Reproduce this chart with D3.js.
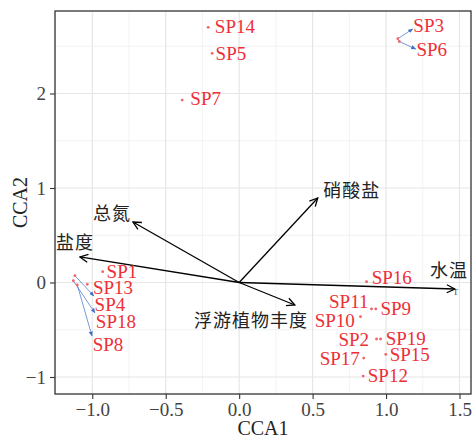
<!DOCTYPE html>
<html>
<head>
<meta charset="utf-8">
<script src="https://cdn.jsdelivr.net/npm/d3@7"></script>
<style>
  body { margin: 0; background: #fff; }
  svg { display: block; }
</style>
</head>
<body>
<svg id="chart" width="473" height="438"></svg>
<script>
// species scores (CCA1, CCA2)
var species = ["SP14", "SP5", "SP7", "SP3", "SP6", "SP1", "SP13", "SP4", "SP18", "SP8",
               "SP16", "SP11", "SP9", "SP10", "SP2", "SP19", "SP15", "SP17", "SP12"];
var spX = [-0.211, -0.184, -0.388, 1.080, 1.090, -0.929, -1.034, -1.118, -1.129, -1.102,
           0.867, 0.901, 0.930, 0.826, 0.935, 0.962, 0.998, 0.848, 0.844];
var spY = [2.700, 2.425, 1.930, 2.580, 2.550, 0.114, -0.019, 0.072, 0.019, -0.026,
           0.008, -0.280, -0.280, -0.362, -0.598, -0.598, -0.760, -0.800, -0.990];
// where the (repelled) labels sit, in data units
var labX = [-0.029, -0.056, -0.228, 1.290, 1.311, -0.798, -0.859, -0.880, -0.839, -0.893,
            1.039, 0.746, 1.066, 0.651, 0.780, 1.134, 1.161, 0.685, 1.012];
var labY = [2.714, 2.429, 1.952, 2.725, 2.471, 0.122, -0.048, -0.228, -0.407, -0.651,
            0.058, -0.196, -0.270, -0.397, -0.598, -0.587, -0.757, -0.799, -0.979];
// labels pushed away from their point get a segment
var repelled = ["SP3", "SP6", "SP4", "SP18", "SP8"];

// environmental vectors
var envNames = ["水温", "盐度", "总氮", "硝酸盐", "浮游植物丰度"];
var envX = [1.468, -1.084, -0.723, 0.535, 0.379];
var envY = [-0.069, 0.270, 0.640, 0.894, -0.238];
var envLabX = [1.428, -1.118, -0.866, 0.766, 0.080];
var envLabY = [0.122, 0.418, 0.725, 0.968, -0.407];

var xTicks = [-1.0, -0.5, 0.0, 0.5, 1.0, 1.5];
var yTicks = [-1, 0, 1, 2];
var xMinor = [-1.25, -0.75, -0.25, 0.25, 0.75, 1.25];
var yMinor = [-0.5, 0.5, 1.5, 2.5];

var margin = { top: 11, right: 2, bottom: 44, left: 55 };
var W = 473, H = 438;
var svg = d3.select("#chart");
var g = svg.append("g").attr("transform", "translate(" + margin.left + "," + margin.top + ")");
var iw = W - margin.left - margin.right, ih = H - margin.top - margin.bottom;

var x = d3.scaleLinear().domain([-1.2537, 1.5782]).range([0, iw]);
var y = d3.scaleLinear().domain([-1.180, 2.873]).range([ih, 0]);

var serif = "'Liberation Serif', 'DejaVu Serif', serif";
var cjk = "'Noto Sans CJK SC', 'Noto Sans CJK JP', sans-serif";

// grid
g.selectAll(".minx").data(xMinor).enter().append("line")
  .attr("x1", d => x(d)).attr("x2", d => x(d)).attr("y1", 0).attr("y2", ih)
  .attr("stroke", "#ececec").attr("stroke-width", 0.7);
g.selectAll(".miny").data(yMinor).enter().append("line")
  .attr("y1", d => y(d)).attr("y2", d => y(d)).attr("x1", 0).attr("x2", iw)
  .attr("stroke", "#ececec").attr("stroke-width", 0.7);
g.selectAll(".majx").data(xTicks).enter().append("line")
  .attr("x1", d => x(d)).attr("x2", d => x(d)).attr("y1", 0).attr("y2", ih)
  .attr("stroke", "#e6e6e6").attr("stroke-width", 1.2);
g.selectAll(".majy").data(yTicks).enter().append("line")
  .attr("y1", d => y(d)).attr("y2", d => y(d)).attr("x1", 0).attr("x2", iw)
  .attr("stroke", "#e6e6e6").attr("stroke-width", 1.2);

// axes
var xAxis = g.append("g").attr("transform", "translate(0," + ih + ")")
  .call(d3.axisBottom(x).tickValues(xTicks).tickFormat(d3.format(".1f")).tickSize(5).tickPadding(4));
var yAxis = g.append("g")
  .call(d3.axisLeft(y).tickValues(yTicks).tickFormat(d3.format("d")).tickSize(5).tickPadding(4));
[xAxis, yAxis].forEach(function (a) {
  a.select(".domain").remove();
  a.selectAll(".tick line").attr("stroke", "#333").attr("stroke-width", 1.1);
  a.selectAll(".tick text").attr("fill", "#444").style("font-family", serif).style("font-size", "19px");
});

// border
g.append("rect").attr("x", 0).attr("y", 0).attr("width", iw).attr("height", ih)
  .attr("fill", "none").attr("stroke", "#333").attr("stroke-width", 1.3);

// markers
var defs = svg.append("defs");
defs.append("marker").attr("id", "openArrow").attr("viewBox", "0 0 10 10")
  .attr("refX", 9).attr("refY", 5).attr("markerWidth", 10).attr("markerHeight", 10)
  .attr("markerUnits", "userSpaceOnUse").attr("orient", "auto")
  .append("path").attr("d", "M1,1 L9,5 L1,9").attr("fill", "none")
  .attr("stroke", "#000").attr("stroke-width", 1.3);
defs.append("marker").attr("id", "blueArrow").attr("viewBox", "0 0 10 10")
  .attr("refX", 9).attr("refY", 5).attr("markerWidth", 5).attr("markerHeight", 5)
  .attr("markerUnits", "userSpaceOnUse").attr("orient", "auto")
  .append("path").attr("d", "M0,1 L10,5 L0,9 Z").attr("fill", "#3b6fc6");

// env arrows
var env = envNames.map((n, i) => ({ name: n, x: envX[i], y: envY[i], lx: envLabX[i], ly: envLabY[i] }));
g.selectAll(".env").data(env).enter().append("line")
  .attr("x1", x(0)).attr("y1", y(0)).attr("x2", d => x(d.x)).attr("y2", d => y(d.y))
  .attr("stroke", "#000").attr("stroke-width", 1.3).attr("marker-end", "url(#openArrow)");
g.selectAll(".envlab").data(env).enter().append("text")
  .attr("x", d => x(d.lx)).attr("y", d => y(d.ly)).attr("dy", "0.35em")
  .attr("text-anchor", "middle").attr("fill", "#222")
  .style("font-family", cjk).style("font-size", "18px").style("letter-spacing", "1px")
  .text(d => d.name);
g.append("text").attr("x", x(1.468) + 1).attr("y", y(-0.069) + 6)
  .attr("text-anchor", "middle").attr("fill", "#333")
  .style("font-family", serif).style("font-size", "8px").text("T");

// species
var sp = species.map((n, i) => ({ name: n, x: spX[i], y: spY[i], lx: labX[i], ly: labY[i] }));

// repel segments: from point to the left edge of the label box
g.selectAll(".seg").data(sp.filter(d => repelled.indexOf(d.name) >= 0)).enter().append("line")
  .attr("x1", d => x(d.x)).attr("y1", d => y(d.y))
  .attr("x2", d => x(d.lx) - d.name.length * 5 - 1)
  .attr("y2", function (d) {
    var dy = y(d.ly) - y(d.y);
    return y(d.ly) - (dy > 20 ? 8 : (dy < -5 ? -4 : 0));
  })
  .attr("stroke", "#3b6fc6").attr("stroke-width", 0.7).attr("marker-end", "url(#blueArrow)");

g.selectAll(".pt").data(sp).enter().append("circle")
  .attr("cx", d => x(d.x)).attr("cy", d => y(d.y)).attr("r", 1.4)
  .attr("fill", "#f0636b");
g.selectAll(".splab").data(sp).enter().append("text")
  .attr("x", d => x(d.lx)).attr("y", d => y(d.ly)).attr("dy", "0.35em")
  .attr("text-anchor", "middle").attr("fill", "#ee2f37")
  .style("font-family", serif).style("font-size", "19px")
  .text(d => d.name);

// axis titles
svg.append("text").attr("x", margin.left + iw / 2).attr("y", 428).attr("dy", "0.35em")
  .attr("text-anchor", "middle").attr("fill", "#222")
  .style("font-family", serif).style("font-size", "20px").text("CCA1");
svg.append("text").attr("transform", "translate(20," + (margin.top + ih / 2) + ") rotate(-90)")
  .attr("dy", "0.35em").attr("text-anchor", "middle").attr("fill", "#222")
  .style("font-family", serif).style("font-size", "20px").text("CCA2");
</script>
</body>
</html>
